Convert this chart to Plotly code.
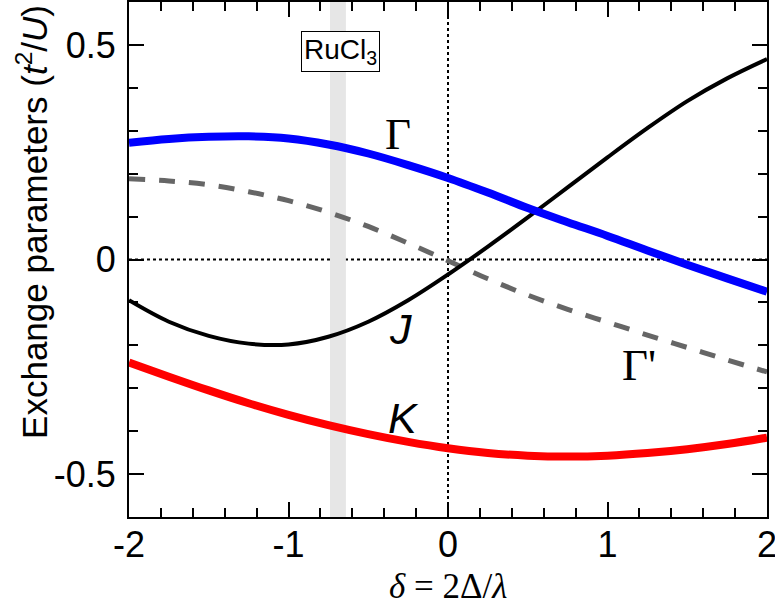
import plotly.graph_objects as go

# delta = 2*Delta/lambda
delta = [-2, -1.75, -1.5, -1.25, -1, -0.75, -0.5, -0.25, 0,
         0.25, 0.5, 0.75, 1, 1.25, 1.5, 1.75, 2]

# exchange parameters in units of t^2/U
gamma = [0.272, 0.281, 0.286, 0.287, 0.282, 0.268, 0.247, 0.22, 0.19,
         0.156, 0.12, 0.087, 0.055, 0.021, -0.012, -0.044, -0.075]
gamma_prime = [0.188, 0.183, 0.174, 0.158, 0.137, 0.11, 0.077, 0.038, -0.003,
               -0.045, -0.083, -0.116, -0.146, -0.176, -0.205, -0.234, -0.262]
j_param = [-0.095, -0.145, -0.178, -0.196, -0.198, -0.18, -0.145, -0.095, -0.035,
           0.03, 0.098, 0.168, 0.238, 0.306, 0.369, 0.422, 0.467]
k_param = [-0.24, -0.273, -0.305, -0.335, -0.362, -0.386, -0.407, -0.425, -0.44,
           -0.451, -0.457, -0.459, -0.457, -0.451, -0.442, -0.43, -0.415]

# RuCl3 region
rucl3_band = [-0.74, -0.64]

x_ticks = [-2, -1, 0, 1, 2]
x_ticktext = ["-2", "-1", "0", "1", "2"]
y_ticks = [-0.5, 0, 0.5]
y_ticktext = ["-0.5", "0", "0.5"]

sans = "Liberation Sans, Arial, sans-serif"
serif = "Liberation Serif, Times New Roman, serif"

fig = go.Figure()

fig.add_trace(go.Scatter(x=delta, y=gamma_prime, mode="lines", line_shape="spline",
                         line=dict(color="#666666", width=5, dash="16px,14px")))
fig.add_trace(go.Scatter(x=delta, y=j_param, mode="lines", line_shape="spline",
                         line=dict(color="black", width=4)))
fig.add_trace(go.Scatter(x=delta, y=gamma, mode="lines", line_shape="spline",
                         line=dict(color="#0000ff", width=8)))
fig.add_trace(go.Scatter(x=delta, y=k_param, mode="lines", line_shape="spline",
                         line=dict(color="#ff0000", width=8)))

# dotted zero lines, then the grey band over them
fig.add_shape(type="line", x0=0, x1=0, y0=0, y1=1, xref="x", yref="paper",
              line=dict(color="black", width=2, dash="3px,3px"), layer="below")
fig.add_shape(type="line", x0=0, x1=1, y0=0, y1=0, xref="paper", yref="y",
              line=dict(color="black", width=2, dash="3px,3px"), layer="below")
fig.add_shape(type="rect", x0=rucl3_band[0], x1=rucl3_band[1], y0=0, y1=1,
              xref="x", yref="paper", fillcolor="#e6e6e6", line_width=0, layer="below")

# curve labels
fig.add_annotation(x=-0.313, y=0.293, text="Γ", showarrow=False,
                   font=dict(family=serif, size=45, color="black"))
fig.add_annotation(x=-0.295, y=-0.163, text="<i>J</i>", showarrow=False,
                   font=dict(family=sans, size=43, color="black"))
fig.add_annotation(x=-0.276, y=-0.37, text="<i>K</i>", showarrow=False,
                   font=dict(family=sans, size=43, color="black"))
fig.add_annotation(x=1.2, y=-0.245, text="Γ'", showarrow=False,
                   font=dict(family=serif, size=45, color="black"))

fig.add_annotation(x=-0.671, y=0.484, text="RuCl<sub>3</sub>", showarrow=False,
                   font=dict(family=sans, size=28, color="black"),
                   bgcolor="white", bordercolor="black", borderwidth=1, borderpad=2)

# axis titles
fig.add_annotation(x=0.5, y=0, xref="paper", yref="paper", yshift=-69,
                   xanchor="center", yanchor="middle",
                   text="<i>δ</i> = 2Δ/<i>λ</i>", showarrow=False,
                   font=dict(family=serif, size=35, color="black"))
fig.add_annotation(x=0, y=0.573, xref="paper", yref="paper", xshift=-97,
                   xanchor="center", yanchor="middle",
                   text="Exchange parameters (<i>t</i><sup>2</sup>/<i>U</i>)",
                   textangle=-90, showarrow=False,
                   font=dict(family=sans, size=35, color="black"))

axis_style = dict(showline=True, linecolor="black", linewidth=2, mirror="allticks",
                  ticks="inside", ticklen=15, tickwidth=2, tickcolor="black",
                  showgrid=False, zeroline=False, automargin=False,
                  ticklabeloverflow="allow",
                  tickfont=dict(family=sans, size=36, color="black"))

fig.update_xaxes(range=[-2, 2], tickvals=x_ticks, ticktext=x_ticktext,
                 ticklabelstandoff=-5,
                 minor=dict(ticks="inside", ticklen=9, tickwidth=2, tickcolor="black", dtick=0.2),
                 **axis_style)
fig.update_yaxes(range=[-0.6, 0.6], tickvals=y_ticks, ticktext=y_ticktext,
                 ticklabelstandoff=4,
                 minor=dict(ticks="inside", ticklen=9, tickwidth=2, tickcolor="black", dtick=0.1),
                 **axis_style)

fig.update_layout(width=775, height=602, showlegend=False,
                  margin=dict(l=129, r=8, t=2, b=85),
                  plot_bgcolor="white", paper_bgcolor="white")

# drop the page's default body margin so the figure sits at the window corner
fig.write_html("out.html", config={"displayModeBar": False},
               post_script="document.body.style.margin='0px';"
                           "document.body.style.overflow='hidden';")
